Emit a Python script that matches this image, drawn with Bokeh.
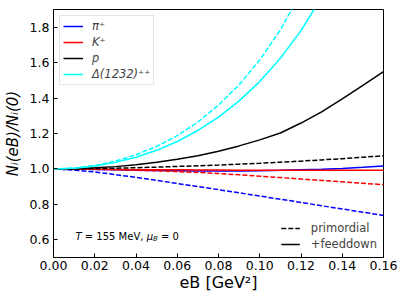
from bokeh.plotting import figure
from bokeh.models import Range1d, Legend, LegendItem, Label, FixedTicker, NumeralTickFormatter
from bokeh.embed import file_html
from bokeh.resources import INLINE

# ---- data ----
eB = [0.00, 0.01, 0.02, 0.03, 0.04, 0.05, 0.06, 0.07, 0.08, 0.09, 0.10,
      0.11, 0.12, 0.13, 0.14, 0.15, 0.16]

pi_feed = [1.000, 0.999, 0.997, 0.995, 0.993, 0.991, 0.990, 0.989, 0.989, 0.989, 0.990,
           0.992, 0.995, 0.998, 1.003, 1.009, 1.016]
pi_prim = [1.000, 0.993, 0.983, 0.968, 0.952, 0.935, 0.918, 0.900, 0.883, 0.865, 0.847,
           0.829, 0.811, 0.792, 0.774, 0.756, 0.737]
K_feed = [1.000, 0.999, 0.998, 0.997, 0.996, 0.995, 0.995, 0.994, 0.994, 0.993, 0.993,
          0.993, 0.992, 0.992, 0.992, 0.992, 0.992]
K_prim = [1.000, 0.9995, 0.998, 0.996, 0.993, 0.989, 0.985, 0.980, 0.974, 0.967, 0.959,
          0.951, 0.943, 0.935, 0.927, 0.919, 0.911]
p_feed = [1.000, 1.001, 1.006, 1.013, 1.024, 1.038, 1.055, 1.075, 1.100, 1.130, 1.164,
          1.203, 1.259, 1.322, 1.396, 1.472, 1.549]
p_prim = [1.000, 1.000, 1.002, 1.004, 1.007, 1.010, 1.014, 1.018, 1.022, 1.027, 1.032,
          1.038, 1.044, 1.051, 1.058, 1.066, 1.074]
eB_D = [0.00, 0.01, 0.02, 0.03, 0.04, 0.05, 0.06, 0.07, 0.08, 0.09, 0.10, 0.11, 0.12, 0.13, 0.14]
D_feed = [1.000, 1.004, 1.016, 1.037, 1.066, 1.105, 1.155, 1.217, 1.292, 1.384, 1.493,
          1.625, 1.781, 1.969, 2.190]
D_prim = [1.000, 1.005, 1.019, 1.044, 1.080, 1.127, 1.188, 1.265, 1.360, 1.475, 1.615,
          1.785, 1.995, 2.250, 2.550]

x_ticks = [0.00, 0.02, 0.04, 0.06, 0.08, 0.10, 0.12, 0.14, 0.16]
y_ticks = [0.6, 0.8, 1.0, 1.2, 1.4, 1.6, 1.8]

FONT = "DejaVu Sans"

p = figure(width=405, height=303, output_backend="svg", toolbar_location=None,
           x_range=Range1d(0.0, 0.16), y_range=Range1d(0.5, 1.9),
           min_border_left=53, min_border_right=22, min_border_top=9, min_border_bottom=46)
p.grid.visible = False
p.outline_line_color = "black"
p.outline_line_width = 1
p.background_fill_color = "white"
p.border_fill_color = "white"

for ax in (p.xaxis[0], p.yaxis[0]):
    ax.major_tick_in = 4
    ax.major_tick_out = 0
    ax.minor_tick_line_color = None
    ax.axis_line_color = "black"
    ax.major_tick_line_color = "black"
    ax.major_label_text_font = FONT
    ax.major_label_text_font_size = "12.5px"
    ax.major_label_text_color = "black"
    ax.axis_label_text_font = FONT
    ax.axis_label_text_color = "black"

p.xaxis.ticker = FixedTicker(ticks=x_ticks)
p.yaxis.ticker = FixedTicker(ticks=y_ticks)
p.xaxis.formatter = NumeralTickFormatter(format="0.00")
p.yaxis.formatter = NumeralTickFormatter(format="0.0")
p.xaxis.major_label_standoff = 3
p.yaxis.major_label_standoff = 4

p.yaxis.axis_label = "Nᵢ(eB)/Nᵢ(0)"
p.yaxis.axis_label_text_font_style = "italic"
p.yaxis.axis_label_text_font_size = "15px"
p.yaxis.axis_label_standoff = 5

p.xaxis.axis_label = "eB [GeV²]"
p.xaxis.axis_label_text_font_style = "normal"
p.xaxis.axis_label_text_font_size = "16px"
p.xaxis.axis_label_standoff = 0

LW = 1.5
DASH = "5 2"
r_pi = p.line(eB, pi_feed, line_color="blue", line_width=LW)
p.line(eB, pi_prim, line_color="blue", line_width=LW, line_dash=DASH)
r_K = p.line(eB, K_feed, line_color="red", line_width=LW)
p.line(eB, K_prim, line_color="red", line_width=LW, line_dash=DASH)
r_p = p.line(eB, p_feed, line_color="black", line_width=LW)
r_pprim = p.line(eB, p_prim, line_color="black", line_width=LW, line_dash=DASH)
r_D = p.line(eB_D, D_feed, line_color="cyan", line_width=LW)
p.line(eB_D, D_prim, line_color="cyan", line_width=LW, line_dash=DASH)

leg1 = Legend(items=[LegendItem(label="π⁺", renderers=[r_pi]),
                     LegendItem(label="K⁺", renderers=[r_K]),
                     LegendItem(label="p", renderers=[r_p]),
                     LegendItem(label="Δ(1232)⁺⁺", renderers=[r_D])],
              location="top_left", margin=6, padding=3, spacing=2,
              glyph_width=20, glyph_height=14, label_height=14, label_standoff=9,
              label_text_font=FONT, label_text_font_size="11.5px", label_text_font_style="italic",
              border_line_color="#cccccc", border_line_width=1,
              background_fill_color="white", background_fill_alpha=0.85)
p.add_layout(leg1)

leg2 = Legend(items=[LegendItem(label="primordial", renderers=[r_pprim]),
                     LegendItem(label="+feeddown", renderers=[r_p])],
              location="bottom_right", margin=6, padding=4, spacing=2,
              glyph_width=19, glyph_height=12, label_height=12, label_standoff=11,
              label_text_font=FONT, label_text_font_size="11.5px",
              border_line_color=None, background_fill_alpha=0.0)
p.add_layout(leg2)

# annotation "T = 155 MeV, μ_B = 0"
ann_y = 21
parts = [("T", 22.0, "italic", "10px", 0),
         ("= 155 MeV,", 31.3, "normal", "10px", 0),
         ("μ", 93.2, "italic", "10px", 0),
         ("B", 99.6, "italic", "7px", -2.5),
         ("= 0", 107.5, "normal", "10px", 0)]
for txt, xx, style, size, dy in parts:
    p.add_layout(Label(x=xx, y=ann_y + dy, x_units="screen", y_units="screen", text=txt,
                       text_font=FONT, text_font_size=size, text_font_style=style,
                       text_baseline="middle", text_align="left", text_color="black"))

open("out.html", "w").write(file_html(p, INLINE))
